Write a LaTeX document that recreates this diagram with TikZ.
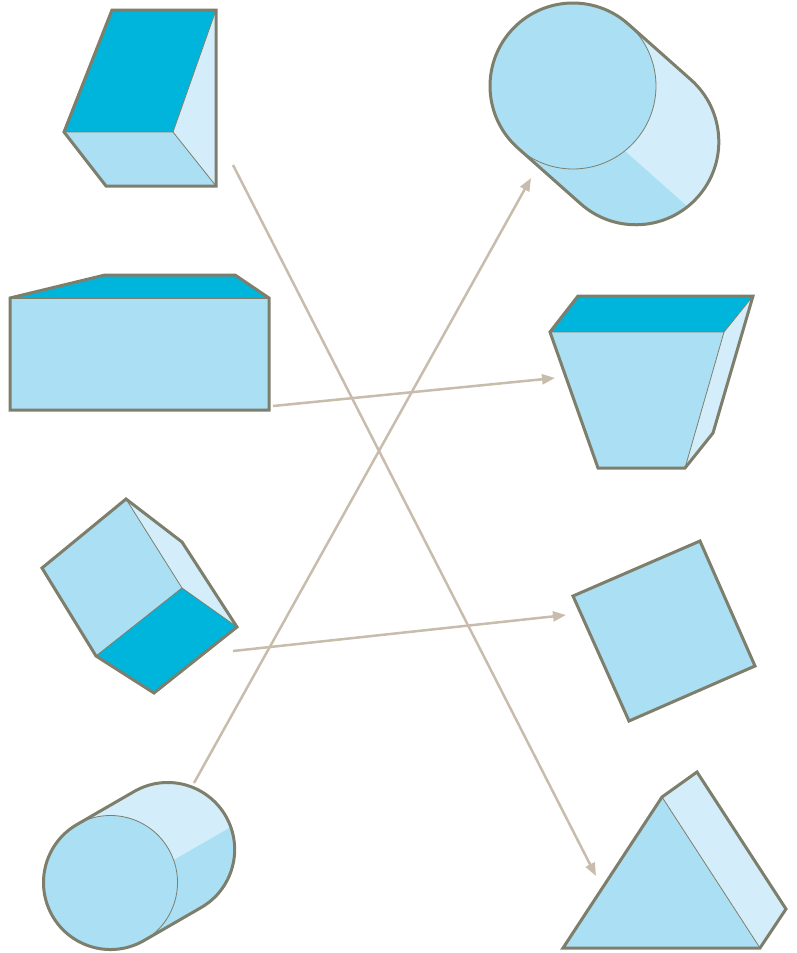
\documentclass[tikz,border=0pt]{standalone}
\usepackage{xcolor}
\usepackage{tikz}
\usetikzlibrary{arrows.meta}

\definecolor{deepcyan}{HTML}{00B5DB}
\definecolor{skyblue}{HTML}{ABDFF3}
\definecolor{paleblue}{HTML}{D3EEFA}
\definecolor{edgegray}{HTML}{7E7E6C}
\definecolor{linktan}{HTML}{C8BCAC}

\begin{document}
\begin{tikzpicture}[
    x=1pt, y=-1pt,
    outline/.style={draw=edgegray, line width=3pt},
    seam/.style={draw=edgegray, line width=0.8pt},
    conn/.style={-{Triangle[length=13pt,width=10pt]}, draw=linktan, line width=2.5pt}
]
    \useasboundingbox (0,0) rectangle (797,953);

    % slanted prism, top left
    \fill[deepcyan] (112,10) -- (216,10) -- (173,132) -- (64,132) -- cycle;
    \fill[paleblue] (216,10) -- (216,186) -- (173,132) -- cycle;
    \fill[skyblue] (64,132) -- (173,132) -- (216,186) -- (106,186) -- cycle;
    \draw[seam] (64,132) -- (173,132) -- (216,10);
    \draw[seam] (173,132) -- (216,186);
    \draw[outline] (112,10) -- (216,10) -- (216,186) -- (106,186) -- (64,132) -- cycle;

    % flat box
    \fill[deepcyan] (10,298) -- (105,275) -- (235,275) -- (269,298) -- cycle;
    \fill[skyblue] (10,298) rectangle (269,410);
    \draw[seam] (10,298) -- (269,298);
    \draw[outline] (10,298) -- (105,275) -- (235,275) -- (269,298) -- (269,410) -- (10,410) -- cycle;

    % tilted cube
    \fill[skyblue] (42,568) -- (126,499) -- (182,588) -- (96,656) -- cycle;
    \fill[paleblue] (126,499) -- (182,542) -- (237,627) -- (182,588) -- cycle;
    \fill[deepcyan] (96,656) -- (182,588) -- (237,627) -- (154,693) -- cycle;
    \draw[seam] (126,499) -- (182,588) -- (96,656);
    \draw[seam] (182,588) -- (237,627);
    \draw[outline] (42,568) -- (126,499) -- (182,542) -- (237,627) -- (154,693) -- (96,656) -- cycle;

    % lying cylinder, bottom left
    \begin{scope}[shift={(110.5,882.5)}, rotate=30]
        \fill[skyblue] (0,-67) -- (66,-67) arc[start angle=-90, end angle=90, radius=67] -- (0,67) arc[start angle=90, end angle=270, radius=67] -- cycle;
        \begin{scope}
            \clip (0,-67) -- (66,-67) arc[start angle=-90, end angle=90, radius=67] -- (0,67) arc[start angle=90, end angle=270, radius=67] -- cycle;
            \fill[paleblue] (-70,-70) rectangle (140,12);
        \end{scope}
        \filldraw[fill=skyblue, seam] (0,0) circle[radius=67];
        \draw[outline] (0,-67) -- (66,-67) arc[start angle=-90, end angle=90, radius=67] -- (0,67) arc[start angle=90, end angle=270, radius=67] -- cycle;
    \end{scope}

    % tilted cylinder, top right
    \begin{scope}[shift={(573,86)}, rotate=-41.6]
        \fill[skyblue] (0,-83) -- (84,-83) arc[start angle=-90, end angle=90, radius=83] -- (0,83) arc[start angle=90, end angle=270, radius=83] -- cycle;
        \begin{scope}
            \clip (0,-83) -- (84,-83) arc[start angle=-90, end angle=90, radius=83] -- (0,83) arc[start angle=90, end angle=270, radius=83] -- cycle;
            \fill[paleblue] (-90,-90) rectangle (180,14);
        \end{scope}
        \filldraw[fill=skyblue, seam] (0,0) circle[radius=83];
        \draw[outline] (0,-83) -- (84,-83) arc[start angle=-90, end angle=90, radius=83] -- (0,83) arc[start angle=90, end angle=270, radius=83] -- cycle;
    \end{scope}

    % trapezoid prism
    \fill[deepcyan] (578,296) -- (753,296) -- (724,332) -- (550,332) -- cycle;
    \fill[skyblue] (550,332) -- (724,332) -- (685,468) -- (598,468) -- cycle;
    \fill[paleblue] (753,296) -- (713,433) -- (685,468) -- (724,332) -- cycle;
    \draw[seam] (550,332) -- (724,332) -- (753,296);
    \draw[seam] (724,332) -- (685,468);
    \draw[outline] (578,296) -- (753,296) -- (713,433) -- (685,468) -- (598,468) -- (550,332) -- cycle;

    % rotated square
    \filldraw[fill=skyblue, outline] (573,596) -- (700,541) -- (755,666) -- (629,721) -- cycle;

    % triangular prism
    \fill[skyblue] (563,948) -- (662,797) -- (760,948) -- cycle;
    \fill[paleblue] (662,797) -- (697,772) -- (786,909) -- (760,948) -- cycle;
    \draw[seam] (662,797) -- (760,948);
    \draw[outline] (563,948) -- (662,797) -- (697,772) -- (786,909) -- (760,948) -- cycle;

    % connector ends
    \coordinate (prismout) at (233,165);
    \coordinate (wedgein) at (596,876);
    \coordinate (boxout) at (273,406);
    \coordinate (trapin) at (555,378);
    \coordinate (cubeout) at (233,651);
    \coordinate (squarein) at (566,615);
    \coordinate (rollout) at (194,783);
    \coordinate (drumin) at (531,178);

    \draw[conn] (prismout) -- (wedgein);
    \draw[conn] (boxout) -- (trapin);
    \draw[conn] (cubeout) -- (squarein);
    \draw[conn] (rollout) -- (drumin);
\end{tikzpicture}
\end{document}
